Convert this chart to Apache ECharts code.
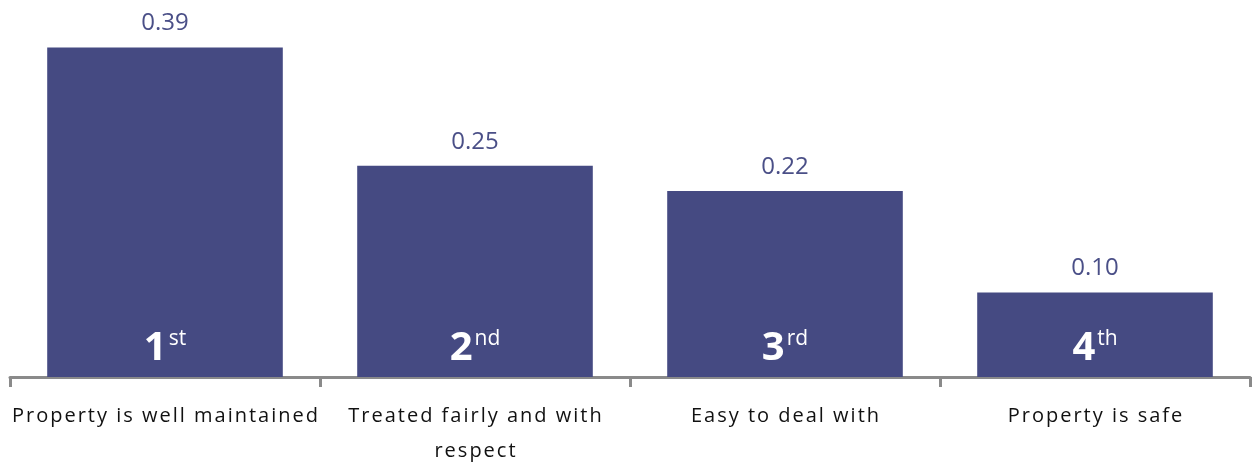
<!DOCTYPE html>
<html>
<head>
<meta charset="utf-8">
<script src="https://cdn.jsdelivr.net/npm/echarts@6/dist/echarts.min.js"></script>
<style>
html, body { margin: 0; padding: 0; overflow: hidden; background: #fff; }
#main { width: 1253px; height: 469px; }
</style>
</head>
<body>
<div id="main"></div>
<script>
const categories = ["Property is well maintained", "Treated fairly and with\nrespect", "Easy to deal with", "Property is safe"];
const values = [0.39, 0.25, 0.22, 0.10];
const rankNums = ["1", "2", "3", "4"];
const rankSuffix = ["st", "nd", "rd", "th"];

const barColor = "#454A82";
// spread letters a little, like the wide original font
function spread(s) {
  return s.split("\n").map(function (line) {
    return line.split(" ").map(function (w) { return w.split("").join("\u200a"); }).join("\u200a \u200a");
  }).join("\n");
}

let myChart = echarts.init(document.getElementById("main"));
myChart.setOption({
  animation: false,
  grid: { left: 10, right: 3, top: 39, bottom: 86, containLabel: false },
  xAxis: {
    type: "category",
    data: categories,
    axisLine: { lineStyle: { color: "#8a8a8a", width: 3 } },
    axisTick: { show: true, length: 10, lineStyle: { color: "#8a8a8a", width: 3 } },
    axisLabel: {
      interval: 0,
      margin: 22,
      color: "#111",
      fontSize: 20,
      fontFamily: "Open Sans",
      lineHeight: 35,
      formatter: spread
    }
  },
  yAxis: { type: "value", min: 0, max: 0.4, show: false, splitLine: { show: false } },
  series: [
    {
      type: "bar",
      data: values,
      barWidth: "76%",
      itemStyle: { color: barColor },
      label: {
        show: true,
        position: "top",
        distance: 12,
        color: "#4A4F87",
        fontSize: 24,
        fontFamily: "Open Sans",
        formatter: function (p) { return p.value.toFixed(2); }
      }
    },
    {
      type: "bar",
      data: values,
      barWidth: "76%",
      barGap: "-100%",
      itemStyle: { color: "rgba(0,0,0,0)" },
      z: 5,
      label: {
        show: true,
        position: "insideBottom",
        distance: 8,
        formatter: function (p) {
          return "{n|" + rankNums[p.dataIndex] + "}{s|" + rankSuffix[p.dataIndex] + "}";
        },
        rich: {
          n: { color: "#fff", fontSize: 40, fontWeight: "bold", fontFamily: "Open Sans" },
          s: { color: "#fff", fontSize: 21, fontFamily: "Open Sans", verticalAlign: "top", padding: [0, 0, 0, 2] }
        }
      }
    }
  ]
});
window.onresize = myChart.resize;
</script>
</body>
</html>
